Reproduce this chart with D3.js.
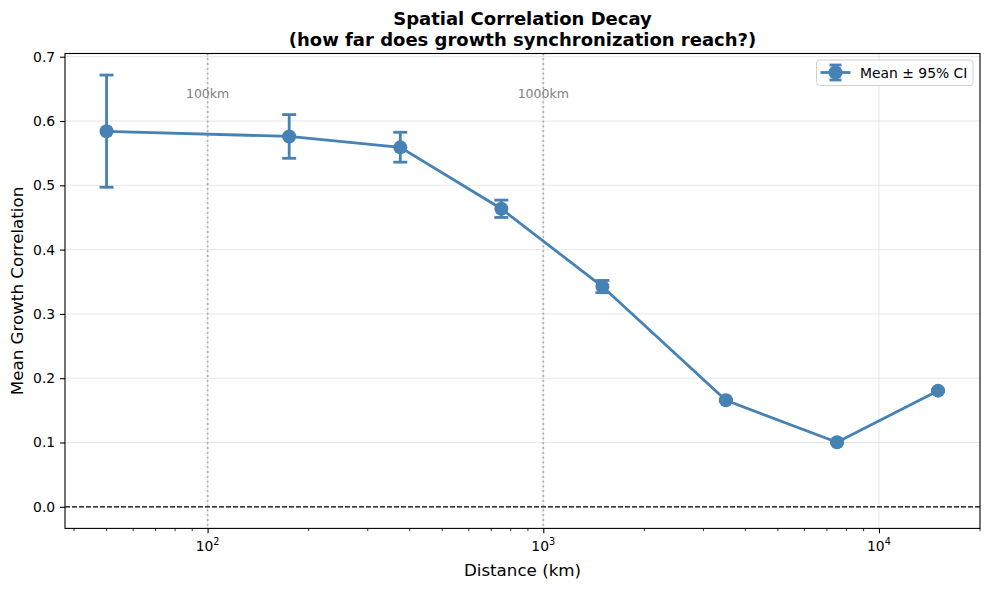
<!DOCTYPE html>
<html>
<head>
<meta charset="utf-8">
<script src="https://cdn.jsdelivr.net/npm/d3@7"></script>
<style>
  body { margin: 0; background: #fff; }
  svg { display: block; font-family: "DejaVu Sans", sans-serif; }
</style>
</head>
<body>
<svg id="chart" width="989" height="590"></svg>
<script>
// distance bins (km) and mean growth correlation with 95% CI
const distances = [50, 175, 375, 750, 1500, 3500, 7500, 15000];
const means = [0.584, 0.576, 0.559, 0.4635, 0.3425, 0.1656, 0.1003, 0.1806];
const ciLow = [0.497, 0.542, 0.536, 0.450, 0.333, 0.1646, 0.0993, 0.1796];
const ciHigh = [0.6715, 0.610, 0.5825, 0.4770, 0.352, 0.1666, 0.1013, 0.1816];
const yTicks = [0.0, 0.1, 0.2, 0.3, 0.4, 0.5, 0.6, 0.7];
const xMajor = [100, 1000, 10000];
const refLines = [100, 1000];
const refLabels = ["100km", "1000km"];

const color = "#4682b4";
const margin = { top: 53.5, right: 9, bottom: 61.6, left: 65 };
const W = 989, H = 590;
const width = W - margin.left - margin.right;
const height = H - margin.top - margin.bottom;

const svg = d3.select("#chart");
const g = svg.append("g").attr("transform", `translate(${margin.left},${margin.top})`);

const x = d3.scaleLog().domain([37.6, 20000]).range([0, width]);
const y = d3.scaleLinear().domain([-0.0336, 0.705]).range([height, 0]);

// grid
g.append("g").selectAll("line").data(yTicks).enter().append("line")
  .attr("x1", 0).attr("x2", width)
  .attr("y1", d => y(d)).attr("y2", d => y(d))
  .attr("stroke", "#b0b0b0").attr("stroke-opacity", 0.3).attr("stroke-width", 1);
g.append("g").selectAll("line").data(xMajor).enter().append("line")
  .attr("x1", d => x(d)).attr("x2", d => x(d))
  .attr("y1", 0).attr("y2", height)
  .attr("stroke", "#b0b0b0").attr("stroke-opacity", 0.3).attr("stroke-width", 1);

// zero line
g.append("line")
  .attr("x1", 0).attr("x2", width)
  .attr("y1", y(0)).attr("y2", y(0))
  .attr("stroke", "#000").attr("stroke-width", 1.2)
  .attr("stroke-dasharray", "5,2");

// reference distance lines
g.append("g").selectAll("line").data(refLines).enter().append("line")
  .attr("x1", d => x(d)).attr("x2", d => x(d))
  .attr("y1", 0).attr("y2", height)
  .attr("stroke", "#808080").attr("stroke-opacity", 0.6).attr("stroke-width", 1.8)
  .attr("stroke-dasharray", "1.8,3");
g.append("g").selectAll("text").data(refLines).enter().append("text")
  .attr("x", d => x(d)).attr("y", 98 - margin.top)
  .attr("text-anchor", "middle")
  .attr("font-size", "12.5px")
  .attr("fill", "#808080")
  .text((d, i) => refLabels[i]);

// axes
const xAxis = d3.axisBottom(x)
  .tickValues(xMajor)
  .tickFormat("")
  .tickSizeInner(4.9).tickSizeOuter(0);
const xg = g.append("g").attr("transform", `translate(0,${height})`).call(xAxis);
xg.select(".domain").remove();
xg.selectAll(".tick line").attr("stroke", "#000").attr("stroke-width", 1.1);

// minor ticks
const minor = [];
[10, 100, 1000, 10000].forEach(dec => {
  for (let k = 2; k <= 9; k++) {
    const v = dec * k;
    if (v >= 37.6 && v <= 20000) minor.push(v);
  }
});
g.append("g").selectAll("line").data(minor).enter().append("line")
  .attr("x1", d => x(d)).attr("x2", d => x(d))
  .attr("y1", height).attr("y2", height + 2.8)
  .attr("stroke", "#000").attr("stroke-width", 0.8);

// x tick labels as 10^n
const sup = ["", "", "2", "3", "4"];
xMajor.forEach(v => {
  const t = g.append("text")
    .attr("x", x(v)).attr("y", height + 23)
    .attr("text-anchor", "middle")
    .attr("font-size", "13.9px")
    .attr("fill", "#000");
  t.append("tspan").text("10");
  t.append("tspan").attr("dy", "-6").attr("font-size", "9.7px").text(sup[Math.log10(v)]);
});

const yAxis = d3.axisLeft(y)
  .tickValues(yTicks)
  .tickFormat(d3.format(".1f"))
  .tickSizeInner(4.9).tickSizeOuter(0).tickPadding(4.9);
const yg = g.append("g").call(yAxis);
yg.select(".domain").remove();
yg.selectAll(".tick line").attr("stroke", "#000").attr("stroke-width", 1.1);
yg.selectAll("text").attr("font-size", "13.9px").attr("fill", "#000")
  .attr("font-family", "DejaVu Sans, sans-serif");

// frame
g.append("rect")
  .attr("width", width).attr("height", height)
  .attr("fill", "none").attr("stroke", "#000").attr("stroke-width", 1.1);

// data line
const line = d3.line()
  .x((d, i) => x(distances[i]))
  .y(d => y(d));
g.append("path").datum(means)
  .attr("d", line)
  .attr("fill", "none")
  .attr("stroke", color).attr("stroke-width", 2.8);

// error bars
const eb = g.append("g").selectAll("g").data(distances).enter().append("g")
  .attr("stroke", color).attr("stroke-width", 2.8);
eb.append("line")
  .attr("x1", d => x(d)).attr("x2", d => x(d))
  .attr("y1", (d, i) => y(ciLow[i])).attr("y2", (d, i) => y(ciHigh[i]));
eb.append("line")
  .attr("x1", d => x(d) - 7).attr("x2", d => x(d) + 7)
  .attr("y1", (d, i) => y(ciLow[i])).attr("y2", (d, i) => y(ciLow[i]));
eb.append("line")
  .attr("x1", d => x(d) - 7).attr("x2", d => x(d) + 7)
  .attr("y1", (d, i) => y(ciHigh[i])).attr("y2", (d, i) => y(ciHigh[i]));

// markers
g.append("g").selectAll("circle").data(distances).enter().append("circle")
  .attr("cx", d => x(d))
  .attr("cy", (d, i) => y(means[i]))
  .attr("r", 7)
  .attr("fill", color);

// legend
const lg = svg.append("g").attr("transform", "translate(816.5,60)");
lg.append("rect")
  .attr("width", 156.5).attr("height", 25.5)
  .attr("rx", 3)
  .attr("fill", "#fff").attr("fill-opacity", 0.8)
  .attr("stroke", "#d0d0d0").attr("stroke-width", 1);
lg.append("line")
  .attr("x1", 4).attr("x2", 34).attr("y1", 12.5).attr("y2", 12.5)
  .attr("stroke", color).attr("stroke-width", 2.8);
lg.append("line")
  .attr("x1", 19).attr("x2", 19).attr("y1", 5).attr("y2", 20)
  .attr("stroke", color).attr("stroke-width", 2.8);
[5, 20].forEach(cy => {
  lg.append("line")
    .attr("x1", 13).attr("x2", 25).attr("y1", cy).attr("y2", cy)
    .attr("stroke", color).attr("stroke-width", 2.8);
});
lg.append("circle").attr("cx", 19).attr("cy", 12.5).attr("r", 7).attr("fill", color);
lg.append("text")
  .attr("x", 43.5).attr("y", 17.5)
  .attr("font-size", "13.9px").attr("fill", "#000")
  .text("Mean ± 95% CI");

// axis labels
svg.append("text")
  .attr("x", margin.left + width / 2).attr("y", 576)
  .attr("text-anchor", "middle")
  .attr("font-size", "16.7px").attr("fill", "#000")
  .text("Distance (km)");
svg.append("text")
  .attr("transform", `translate(23,${margin.top + height / 2}) rotate(-90)`)
  .attr("text-anchor", "middle")
  .attr("font-size", "16.7px").attr("fill", "#000")
  .text("Mean Growth Correlation");

// title
const title = svg.append("text")
  .attr("text-anchor", "middle")
  .attr("font-size", "18px").attr("font-weight", "bold").attr("fill", "#000");
title.append("tspan").attr("x", margin.left + width / 2).attr("y", 24.5)
  .text("Spatial Correlation Decay");
title.append("tspan").attr("x", margin.left + width / 2).attr("y", 45.5)
  .text("(how far does growth synchronization reach?)");
</script>
</body>
</html>
